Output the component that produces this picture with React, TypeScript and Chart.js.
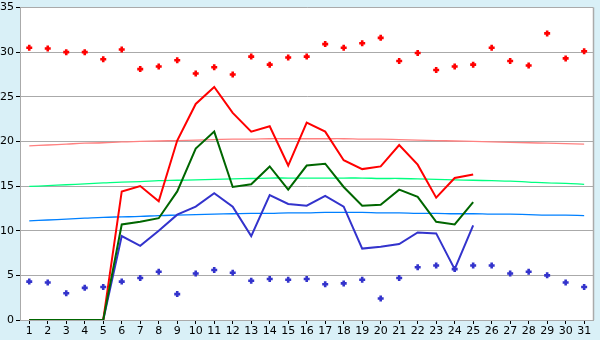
import React, { useEffect, useRef } from "react";
import { Chart, registerables } from "chart.js";

Chart.register(...registerables);

const days = Array.from({ length: 31 }, (_, i) => String(i + 1));

const redLine = [0, 0, 0, 0, 0, 14.4, 15.0, 13.3, 20.1, 24.2, 26.1, 23.2, 21.1, 21.7, 17.3, 22.1, 21.1, 17.9, 16.9, 17.2, 19.6, 17.4, 13.7, 15.9, 16.3];
const greenLine = [0, 0, 0, 0, 0, 10.7, 11.0, 11.4, 14.4, 19.2, 21.1, 14.9, 15.2, 17.2, 14.6, 17.3, 17.5, 14.9, 12.8, 12.9, 14.6, 13.8, 11.0, 10.7, 13.2];
const blueLine = [0, 0, 0, 0, 0, 9.4, 8.3, 10.0, 11.8, 12.7, 14.2, 12.7, 9.4, 14.0, 13.0, 12.8, 13.9, 12.7, 8.0, 8.2, 8.5, 9.8, 9.7, 5.7, 10.6];

const redPoints = [30.5, 30.4, 30.0, 30.0, 29.2, 30.3, 28.1, 28.4, 29.1, 27.6, 28.3, 27.5, 29.5, 28.6, 29.4, 29.5, 30.9, 30.5, 31.0, 31.6, 29.0, 29.9, 28.0, 28.4, 28.6, 30.5, 29.0, 28.5, 32.1, 29.3, 30.1];
const bluePoints = [4.3, 4.2, 3.0, 3.6, 3.7, 4.3, 4.7, 5.4, 2.9, 5.2, 5.6, 5.3, 4.4, 4.6, 4.5, 4.6, 4.0, 4.1, 4.5, 2.4, 4.7, 5.9, 6.1, 5.7, 6.1, 6.1, 5.2, 5.4, 5.0, 4.2, 3.7];

const redTrend = [19.5, 19.6, 19.7, 19.8, 19.85, 19.95, 20.0, 20.05, 20.1, 20.15, 20.2, 20.25, 20.25, 20.3, 20.3, 20.3, 20.3, 20.3, 20.25, 20.25, 20.2, 20.15, 20.1, 20.05, 20.0, 19.95, 19.9, 19.85, 19.8, 19.75, 19.7];
const greenTrend = [14.96, 15.05, 15.15, 15.25, 15.35, 15.45, 15.5, 15.6, 15.65, 15.7, 15.75, 15.8, 15.85, 15.9, 15.9, 15.9, 15.9, 15.9, 15.9, 15.85, 15.85, 15.8, 15.75, 15.7, 15.65, 15.6, 15.55, 15.45, 15.35, 15.3, 15.2];
const blueTrend = [11.1, 11.2, 11.3, 11.4, 11.5, 11.55, 11.6, 11.7, 11.75, 11.8, 11.85, 11.9, 11.95, 11.95, 12.0, 12.0, 12.05, 12.05, 12.05, 12.0, 12.0, 11.95, 11.95, 11.9, 11.9, 11.85, 11.85, 11.8, 11.75, 11.75, 11.7];

const yTicks = [0, 5, 10, 15, 20, 25, 30, 35];

const plotBg = {
  id: "plotBg",
  beforeDraw(chart: any) {
    const { ctx, chartArea } = chart;
    ctx.save();
    ctx.fillStyle = "#d9f0f7";
    ctx.fillRect(0, 0, chart.width, chart.height);
    ctx.fillStyle = "#ffffff";
    ctx.fillRect(chartArea.left, chartArea.top, chartArea.right - chartArea.left, chartArea.bottom - chartArea.top);
    ctx.restore();
  },
  beforeDatasetsDraw(chart: any) {
    const { ctx, chartArea } = chart;
    ctx.save();
    ctx.strokeStyle = "#aaaaaa";
    ctx.lineWidth = 1.5;
    ctx.beginPath();
    ctx.moveTo(Math.round(chartArea.right) + 0.5, chartArea.top);
    ctx.lineTo(Math.round(chartArea.right) + 0.5, chartArea.bottom);
    ctx.stroke();
    ctx.restore();
  },
};

export default function App() {
  const ref = useRef<HTMLCanvasElement | null>(null);
  useEffect(() => {
    document.body.style.margin = "0";
    const font = { family: "'DejaVu Sans', Verdana, sans-serif", size: 11, lineHeight: 1 };
    const lineDs = (data: number[], color: string, order: number) => ({
      type: "line" as const,
      data,
      borderColor: color,
      backgroundColor: color,
      borderWidth: 2,
      pointRadius: 0,
      tension: 0,
      fill: false,
      order,
    });
    const trendDs = (data: number[], color: string, order: number) => ({
      type: "line" as const,
      data,
      borderColor: color,
      backgroundColor: color,
      borderWidth: 1.3,
      pointRadius: 0,
      tension: 0.4,
      fill: false,
      order,
    });
    const pointDs = (data: number[], color: string, order: number) => ({
      type: "line" as const,
      data,
      showLine: false,
      borderColor: color,
      backgroundColor: color,
      pointStyle: "cross",
      pointRadius: 3,
      pointBorderWidth: 2.6,
      order,
    });
    const chart = new Chart(ref.current!, {
      type: "line",
      data: {
        labels: days,
        datasets: [
          lineDs(greenLine, "#006600", 1),
          lineDs(redLine, "#ff0000", 2),
          lineDs(blueLine, "#3333cc", 3),
          pointDs(redPoints, "#ff0000", 0),
          pointDs(bluePoints, "#3333cc", 0),
          trendDs(redTrend, "#ff8080", 5),
          trendDs(greenTrend, "#00ff80", 5),
          trendDs(blueTrend, "#0080ff", 5),
        ] as any,
      },
      options: {
        animation: false,
        responsive: false,
        maintainAspectRatio: false,
        layout: { padding: { top: 5, right: 5, left: 0, bottom: 0 } },
        plugins: { legend: { display: false }, tooltip: { enabled: false } },
        scales: {
          x: {
            offset: true,
            grid: { drawOnChartArea: false, drawTicks: true, tickLength: 4, tickColor: "#000000", offset: false },
            border: { display: true, color: "#aaaaaa", width: 1 },
            ticks: { color: "#000000", font, padding: 2, maxRotation: 0, autoSkip: false },
            afterFit: (s: any) => { s.height = 20; },
          },
          y: {
            min: 0,
            max: 35,
            afterBuildTicks: (s: any) => { s.ticks = yTicks.map((v) => ({ value: v })); },
            grid: { color: "#aaaaaa", lineWidth: 1, drawTicks: true, tickLength: 4, tickColor: "#000000" },
            border: { display: true, color: "#aaaaaa", width: 1 },
            ticks: { color: "#000000", font, padding: 2 },
            afterFit: (s: any) => { s.width = 20; },
          },
        },
      },
      plugins: [plotBg],
    });
    return () => chart.destroy();
  }, []);
  return <canvas ref={ref} width={600} height={340} style={{ display: "block" }} />;
}
